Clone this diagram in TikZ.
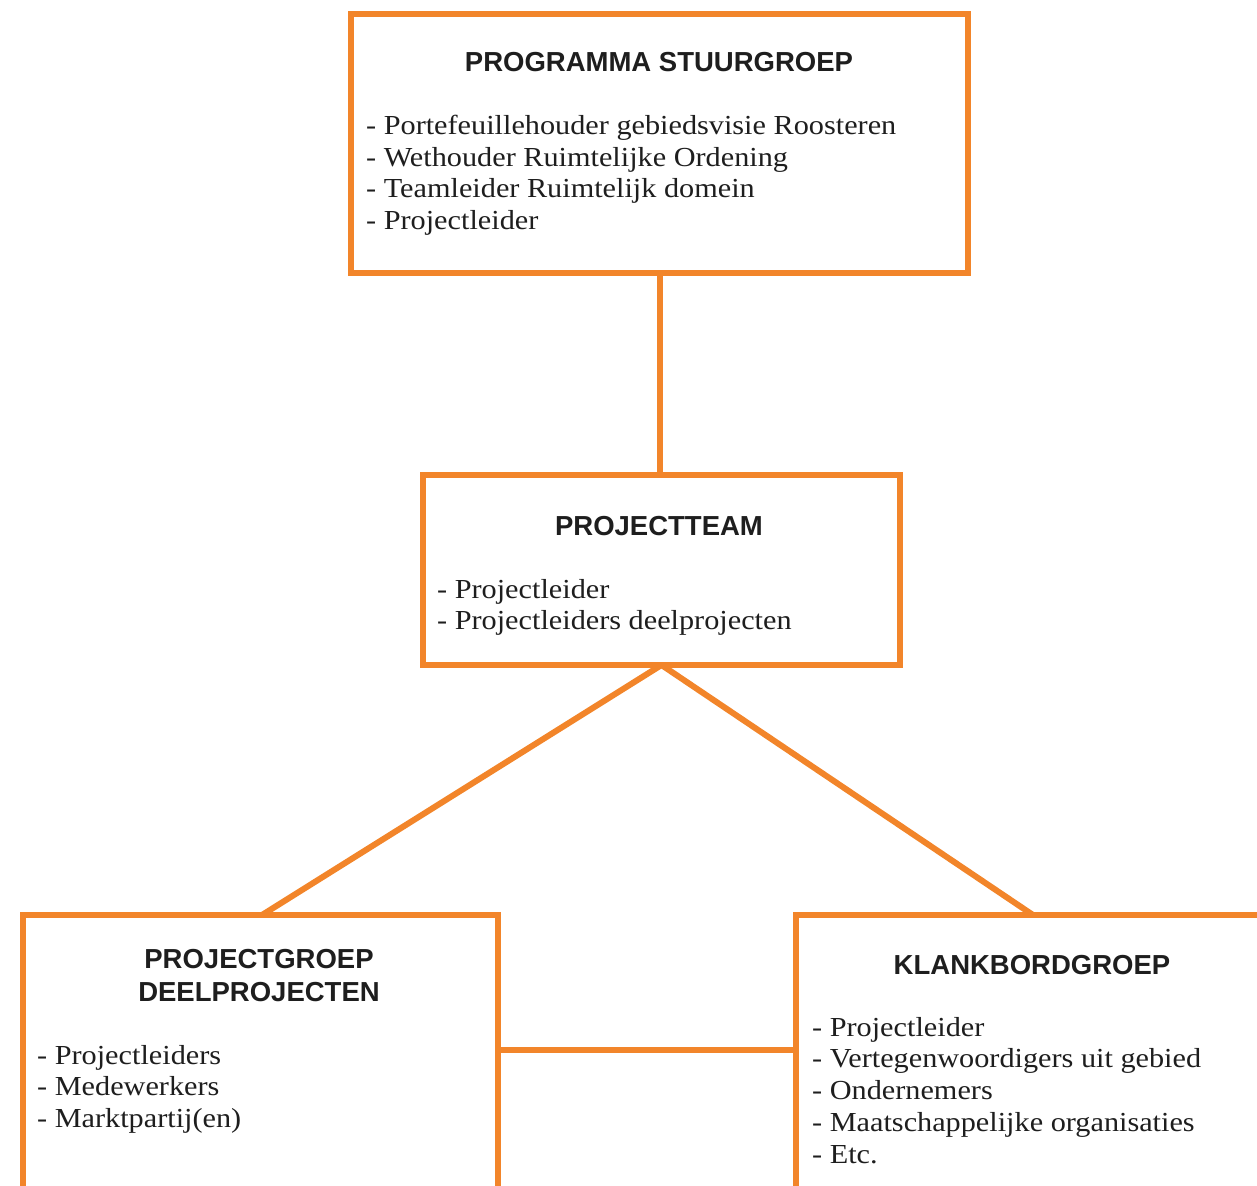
\documentclass[tikz,border=0pt]{standalone}
\usepackage{fontspec}
\setmainfont{Liberation Serif}[FakeStretch=1.1]
\newfontfamily\titlefamily{Liberation Sans}
\definecolor{boxorange}{RGB}{242,133,42}
\definecolor{txt}{RGB}{30,30,30}
\begin{document}
\begin{tikzpicture}[x=1pt,y=-1pt,
  box/.style={draw=boxorange, line width=6pt, fill=white, rectangle, outer sep=0pt, inner sep=0pt},
  link/.style={draw=boxorange, line width=6pt},
  ttl/.style={font=\titlefamily\bfseries\fontsize{27.5}{33}\selectfont, text=txt, align=center, inner sep=0pt},
  body/.style={font=\fontsize{27.5}{31.7}\selectfont, text=txt, align=left, anchor=north west, inner sep=0pt}
]
\clip (0,0) rectangle (1257,1185);
\useasboundingbox (0,0) rectangle (1257,1185);
% boxes
\node[box, minimum width=617pt, minimum height=259pt] (top) at (659.5,143.5) {};
\node[box, minimum width=477pt, minimum height=190pt] (mid) at (661.5,570) {};
\node[box, minimum width=475pt, minimum height=400pt] (bl) at (260.5,1115) {};
\node[box, minimum width=600pt, minimum height=400pt] (br) at (1096,1115) {};
% connectors
\coordinate (blt) at (262,915);
\coordinate (brt) at (1033,915);
\coordinate (bly) at (498,1050);
\coordinate (bry) at (796,1050);
\draw[link] (top.south) -- (top.south |- mid.north);
\draw[link] (mid.south) -- (blt);
\draw[link] (mid.south) -- (brt);
\draw[link] (bly) -- (bry);
% redraw boxes' borders over connector ends
\node[box, fill=none, minimum width=617pt, minimum height=259pt] at (top) {};
\node[box, fill=none, minimum width=477pt, minimum height=190pt] at (mid) {};
\node[box, fill=none, minimum width=475pt, minimum height=400pt] at (bl) {};
\node[box, fill=none, minimum width=600pt, minimum height=400pt] at (br) {};
% texts
\node[ttl] (toptitle) at (659,62) {PROGRAMMA STUURGROEP};
\node[body] (toptext) at (366,115) {- Portefeuillehouder gebiedsvisie Roosteren\\- Wethouder Ruimtelijke Ordening\\- Teamleider Ruimtelijk domein\\- Projectleider};
\node[ttl] (midtitle) at (659,526) {PROJECTTEAM};
\node[body] (midtext) at (437,579) {- Projectleider\\- Projectleiders deelprojecten};
\node[ttl] (bltitle) at (259,976) {PROJECTGROEP\\DEELPROJECTEN};
\node[body] (bltext) at (37,1045) {- Projectleiders\\- Medewerkers\\- Marktpartij(en)};
\node[ttl] (brtitle) at (1032,965) {KLANKBORDGROEP};
\node[body] (brtext) at (812,1017) {- Projectleider\\- Vertegenwoordigers uit gebied\\- Ondernemers\\- Maatschappelijke organisaties\\- Etc.};
\end{tikzpicture}
\end{document}
